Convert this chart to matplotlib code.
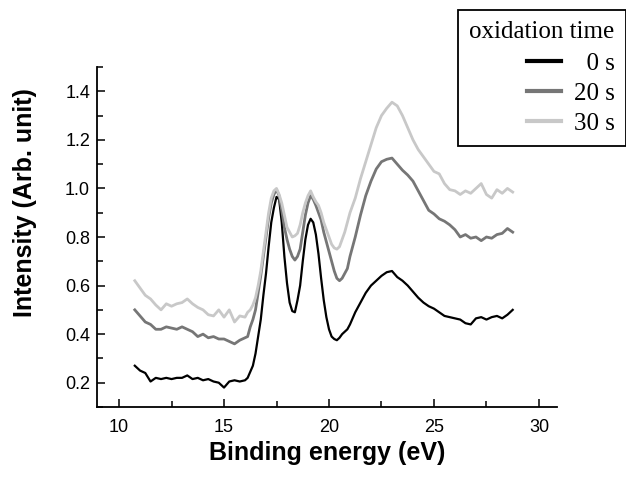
import matplotlib
matplotlib.use("Agg")
import matplotlib.pyplot as plt
from matplotlib.ticker import MultipleLocator

# binding energy (eV)
energy = [
    10.75, 11.0, 11.25, 11.5, 11.75, 12.0, 12.25, 12.5, 12.75, 13.0, 13.25,
    13.5, 13.75, 14.0, 14.25, 14.5, 14.75, 15.0, 15.25, 15.5, 15.75,
    16.0, 16.125, 16.25, 16.375, 16.5, 16.625, 16.75, 16.875, 17.0, 17.125,
    17.25, 17.375, 17.5, 17.625, 17.75, 17.875, 18.0, 18.125, 18.25, 18.375,
    18.5, 18.625, 18.75, 18.875, 19.0, 19.125, 19.25, 19.375, 19.5, 19.625,
    19.75, 19.875, 20.0, 20.125, 20.25, 20.375, 20.5, 20.625, 20.75, 20.875,
    21.0, 21.25, 21.5, 21.75, 22.0, 22.25, 22.5, 22.75, 23.0, 23.25, 23.5,
    23.75, 24.0, 24.25, 24.5, 24.75, 25.0, 25.25, 25.5, 25.75, 26.0, 26.25,
    26.5, 26.75, 27.0, 27.25, 27.5, 27.75, 28.0, 28.25, 28.5, 28.75,
]

int_0s = [
    0.27, 0.25, 0.24, 0.205, 0.22, 0.215, 0.22, 0.215, 0.22, 0.22, 0.23,
    0.215, 0.22, 0.21, 0.215, 0.205, 0.20, 0.18, 0.205, 0.21, 0.205,
    0.21, 0.22, 0.245, 0.27, 0.32, 0.39, 0.46, 0.56, 0.65, 0.76,
    0.86, 0.92, 0.965, 0.955, 0.86, 0.72, 0.61, 0.53, 0.495, 0.49,
    0.54, 0.60, 0.70, 0.79, 0.85, 0.875, 0.86, 0.81, 0.73, 0.63,
    0.54, 0.47, 0.42, 0.39, 0.38, 0.375, 0.385, 0.40, 0.41, 0.42,
    0.44, 0.49, 0.53, 0.57, 0.60, 0.62, 0.64, 0.655, 0.66, 0.635, 0.62,
    0.60, 0.575, 0.55, 0.53, 0.515, 0.505, 0.49, 0.475, 0.47, 0.465, 0.46,
    0.445, 0.44, 0.465, 0.47, 0.46, 0.47, 0.475, 0.465, 0.48, 0.50,
]

int_20s = [
    0.50, 0.475, 0.45, 0.44, 0.42, 0.42, 0.43, 0.425, 0.42, 0.43, 0.42,
    0.41, 0.39, 0.40, 0.385, 0.39, 0.38, 0.38, 0.37, 0.36, 0.375,
    0.385, 0.39, 0.43, 0.46, 0.50, 0.57, 0.64, 0.72, 0.80, 0.88,
    0.94, 0.975, 0.995, 0.97, 0.91, 0.84, 0.79, 0.75, 0.72, 0.705,
    0.72, 0.75, 0.82, 0.89, 0.94, 0.97, 0.955, 0.93, 0.90, 0.87,
    0.82, 0.78, 0.74, 0.70, 0.66, 0.63, 0.62, 0.63, 0.65, 0.67,
    0.72, 0.80, 0.89, 0.97, 1.03, 1.08, 1.11, 1.12, 1.125, 1.10, 1.075,
    1.055, 1.03, 0.99, 0.95, 0.91, 0.895, 0.875, 0.865, 0.85, 0.83, 0.80,
    0.81, 0.795, 0.80, 0.785, 0.80, 0.795, 0.81, 0.815, 0.835, 0.82,
]

int_30s = [
    0.62, 0.59, 0.56, 0.545, 0.52, 0.50, 0.525, 0.515, 0.525, 0.53, 0.545,
    0.525, 0.51, 0.50, 0.48, 0.475, 0.50, 0.47, 0.50, 0.45, 0.475,
    0.47, 0.49, 0.50, 0.52, 0.55, 0.60, 0.66, 0.74, 0.82, 0.90,
    0.96, 0.99, 1.0, 0.975, 0.94, 0.89, 0.84, 0.82, 0.80, 0.805,
    0.815, 0.85, 0.90, 0.94, 0.97, 0.99, 0.965, 0.945, 0.93, 0.90,
    0.86, 0.83, 0.80, 0.77, 0.755, 0.75, 0.76, 0.79, 0.82, 0.86,
    0.90, 0.96, 1.04, 1.11, 1.18, 1.25, 1.30, 1.33, 1.355, 1.34, 1.30,
    1.25, 1.20, 1.16, 1.13, 1.10, 1.07, 1.06, 1.02, 0.995, 0.99, 0.975,
    0.99, 0.98, 1.0, 1.02, 0.975, 0.96, 0.995, 0.98, 1.0, 0.985,
]

labels = ["  0 s", "20 s", "30 s"]
colors = ["#000000", "#767676", "#c8c8c8"]
widths = [1.6, 2.0, 2.0]

fig = plt.figure(figsize=(6.26, 4.78), dpi=100)
ax = fig.add_axes([97 / 626, 71 / 478, 460 / 626, 340 / 478])

for y, lab, c, w in zip([int_0s, int_20s, int_30s], labels, colors, widths):
    ax.plot(energy, y, color=c, lw=w, label=lab)

ax.set_xlim(8.95, 30.86)
ax.set_ylim(0.1, 1.5)
ax.xaxis.set_major_locator(MultipleLocator(5))
ax.xaxis.set_minor_locator(MultipleLocator(2.5))
ax.yaxis.set_major_locator(MultipleLocator(0.2))
ax.yaxis.set_minor_locator(MultipleLocator(0.1))
ax.yaxis.set_major_formatter(matplotlib.ticker.FormatStrFormatter("%.1f"))

for s in ["top", "right"]:
    ax.spines[s].set_visible(False)
for s in ["left", "bottom"]:
    ax.spines[s].set_linewidth(1.3)

ax.tick_params(which="both", direction="in", width=1.1, labelsize=13)
ax.tick_params(which="major", length=6)
ax.tick_params(which="minor", length=4)
ax.tick_params(axis="x", pad=9)
ax.tick_params(axis="y", pad=5)
for t in ax.get_xticklabels() + ax.get_yticklabels():
    t.set_fontfamily("Liberation Sans")

ax.set_xlabel("Binding energy (eV)", fontsize=18, fontweight="bold",
              family="Liberation Sans", labelpad=3)
ax.set_ylabel("Intensity (Arb. unit)", fontsize=18, fontweight="bold",
              family="Liberation Sans")
ax.yaxis.set_label_coords(-0.13, 0.6)

handles, labs = ax.get_legend_handles_labels()
leg = fig.legend(handles, labs, title="oxidation time", loc="upper left",
                 bbox_to_anchor=(458 / 626, 1 - 10 / 478), borderaxespad=0,
                 prop={"family": "Liberation Serif", "size": 18},
                 title_fontproperties={"family": "Liberation Serif", "size": 18},
                 fancybox=False, framealpha=1, edgecolor="black",
                 alignment="right", handlelength=1.35, handletextpad=0.5,
                 labelspacing=0.3, borderpad=0.45)
leg._legend_box.sep = 6.7
leg.get_frame().set_linewidth(1.3)
for h in leg.legend_handles:
    h.set_linewidth(3)

fig.savefig("out.png", dpi=100)
